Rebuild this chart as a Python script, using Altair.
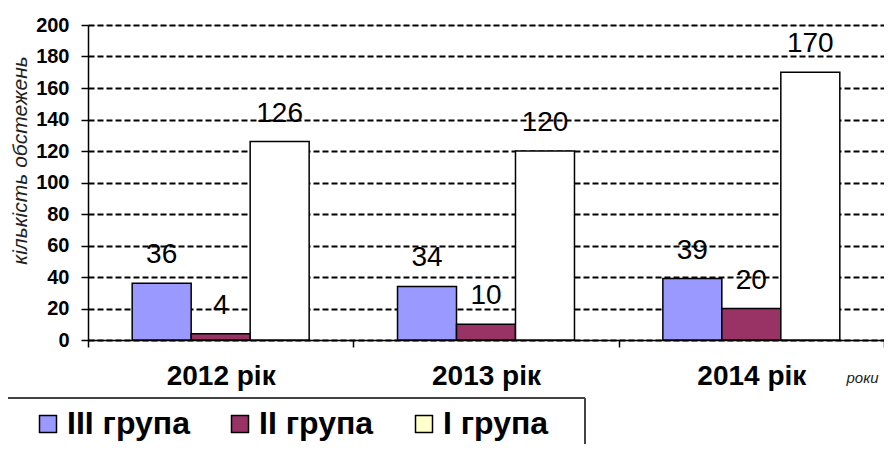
import altair as alt
import pandas as pd

years = ["2012 рік", "2013 рік", "2014 рік"]
groups = ["ІІІ група", "ІІ група", "І група"]
group_iii = [36, 34, 39]
group_ii = [4, 10, 20]
group_i = [126, 120, 170]
bar_colors = ["#9999FF", "#993366", "#FFFFFF"]
legend_colors = ["#9999FF", "#993366", "#FFFFCC"]
y_ticks = list(range(0, 201, 20))

rows = []
for g, vals in zip(groups, [group_iii, group_ii, group_i]):
    for yr, v in zip(years, vals):
        rows.append({"year": yr, "group": g, "legend_group": g, "value": v})
df = pd.DataFrame(rows)

FONT = "Liberation Sans"

x_enc = alt.X(
    "year:N", sort=years,
    scale=alt.Scale(paddingInner=0, paddingOuter=0),
    axis=alt.Axis(
        title="роки", titleFont=FONT, titleFontStyle="italic", titleFontWeight="normal",
        titleFontSize=15, titleColor="#222222", titleAlign="left", titleBaseline="middle",
        titleX=758, titleY=37,
        labelAngle=0, labelFont=FONT, labelFontSize=28, labelFontWeight="bold",
        labelColor="black", labelPadding=15,
        tickBand="extent", tickSize=7, tickColor="black", tickWidth=1.5,
        domainColor="black", domainWidth=1.5, grid=False,
    ),
)
xo_enc = alt.XOffset("group:N", sort=groups, scale=alt.Scale(paddingOuter=0.749, paddingInner=0))
y_enc = alt.Y(
    "value:Q", scale=alt.Scale(domain=[0, 200], nice=False),
    axis=alt.Axis(
        values=y_ticks, title="кількість обстежень", titleFont=FONT, titleFontStyle="italic",
        titleFontWeight="normal", titleFontSize=21, titleColor="#222222",
        titleAngle=-90, titleX=-68, titleY=135, titleAlign="center", titleBaseline="middle",
        labelFont=FONT, labelFontSize=20, labelFontWeight="bold", labelColor="black",
        labelPadding=12, tickSize=7, tickColor="black", tickWidth=1.5,
        domainColor="black", domainWidth=1.5,
        grid=True, gridColor="black", gridDash=[6, 3], gridWidth=2,
    ),
)

base = alt.Chart(df)

bars = base.mark_bar(stroke="black", strokeWidth=1.5).encode(
    x=x_enc, xOffset=xo_enc, y=y_enc,
    fill=alt.Fill("group:N", sort=groups,
                  scale=alt.Scale(domain=groups, range=bar_colors), legend=None),
)

labels = base.mark_text(
    baseline="alphabetic", dy=-20, fontSize=28, font=FONT, color="black"
).encode(x=x_enc, xOffset=xo_enc, y=y_enc, text=alt.Text("value:Q"))

legend_layer = base.mark_square(opacity=0, size=1).encode(
    x=x_enc, xOffset=xo_enc, y=y_enc,
    color=alt.Color(
        "legend_group:N", sort=groups,
        scale=alt.Scale(domain=groups, range=legend_colors),
        legend=alt.Legend(
            orient="none", legendX=-56, legendY=383, direction="horizontal",
            title=None, symbolType="square", symbolSize=289,
            symbolStrokeColor="black", symbolStrokeWidth=1.5, symbolOpacity=1,
            labelFont=FONT, labelFontSize=32, labelFontWeight="bold", labelColor="black",
            labelOffset=3, columnPadding=34, padding=0,
        ),
    ),
)

box_top = alt.Chart(df).mark_rule(color="#444444", strokeWidth=1.5).encode(
    x=alt.value(-80), x2=alt.value(497), y=alt.value(373)
)
box_right = alt.Chart(df).mark_rule(color="#444444", strokeWidth=1.5).encode(
    x=alt.value(497), y=alt.value(373), y2=alt.value(460)
)

chart = alt.layer(bars, labels, legend_layer, box_top, box_right).resolve_scale(
    color="independent", fill="independent"
).resolve_legend(color="independent", fill="independent").properties(
    width=796, height=315,
    autosize=alt.AutoSizeParams(type="none"),
    padding={"left": 80, "top": 17, "right": 0, "bottom": 104},
).configure_view(fill="#C0C0C0", stroke=None).configure(font=FONT, background="white")

chart.save("out.html", embed_options={"renderer": "svg", "actions": False})
